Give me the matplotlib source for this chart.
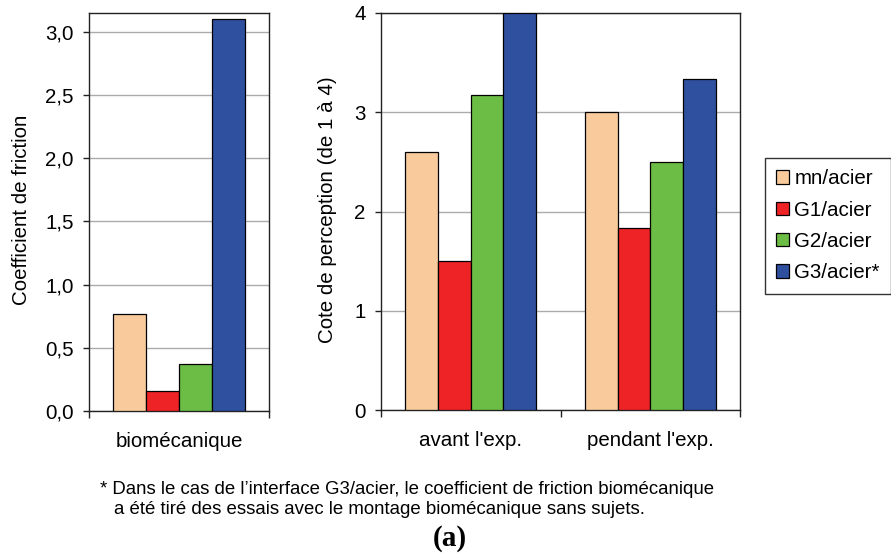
import numpy as np
import matplotlib.pyplot as plt
from matplotlib.ticker import FixedLocator

plt.rcParams['font.family'] = ['Liberation Sans', 'DejaVu Sans']

# séries (interfaces)
series = ['mn/acier', 'G1/acier', 'G2/acier', 'G3/acier*']
colors = ['#F9CB9C', '#EE2326', '#6CBD45', '#2F4F9F']

# coefficient de friction biomécanique
friction_cat = ['biomécanique']
friction = [0.77, 0.16, 0.37, 3.10]

# cote de perception (de 1 à 4)
percep_cat = ["avant l'exp.", "pendant l'exp."]
percep = [[2.60, 3.00],   # mn/acier
          [1.50, 1.83],   # G1/acier
          [3.17, 2.50],   # G2/acier
          [4.00, 3.33]]   # G3/acier*

W, H = 891, 554
fig = plt.figure(figsize=(W / 100, H / 100), dpi=100)

def px_axes(x0, y0, x1, y1):
    return fig.add_axes([x0 / W, 1 - y1 / H, (x1 - x0) / W, (y1 - y0) / H])

ax1 = px_axes(89, 13, 269, 411)
ax2 = px_axes(381, 13, 740, 410)

bw = 0.182
fs = 14.8

def draw(ax, cats, vals):
    x = np.arange(len(cats))
    for i, v in enumerate(vals):
        ax.bar(x + (i - 1.5) * bw, v, bw, color=colors[i], edgecolor='black',
               linewidth=0.9, label=series[i], zorder=3)
    ax.set_xlim(-0.5, len(cats) - 0.5)
    ax.xaxis.set_major_locator(FixedLocator(np.arange(len(cats) + 1) - 0.5))
    ax.xaxis.set_minor_locator(FixedLocator(x))
    ax.set_xticklabels([], minor=False)
    ax.set_xticklabels(cats, minor=True, fontsize=fs)
    ax.tick_params(axis='x', which='major', length=5, width=1, direction='out', colors='#222222')
    ax.tick_params(axis='x', which='minor', length=0, pad=15)
    ax.tick_params(axis='y', length=4, width=1, direction='out', labelsize=fs, pad=7, colors='#222222')
    ax.tick_params(axis='y', labelcolor='black')
    ax.yaxis.grid(True, color='#ABABAB', linewidth=1.0, zorder=0)
    ax.set_axisbelow(True)
    for s in ax.spines.values():
        s.set_color('#222222')
        s.set_linewidth(1.0)

draw(ax1, friction_cat, [[v] for v in friction])
ax1.set_ylim(0, 3.15)
ax1.set_yticks(np.arange(0, 3.01, 0.5))
ax1.set_yticklabels([f'{t:.1f}'.replace('.', ',') for t in np.arange(0, 3.01, 0.5)])
ax1.set_ylabel('Coefficient de friction', fontsize=fs, va='center')
ax1.yaxis.set_label_coords((22 - 89) / 180, 0.505)

draw(ax2, percep_cat, percep)
ax2.set_ylim(0, 4)
ax2.set_yticks(range(0, 5))
ax2.set_ylabel('Cote de perception (de 1 à 4)', fontsize=fs, va='center')
ax2.yaxis.set_label_coords((327.5 - 381) / 359, 0.504)

handles, labels = ax2.get_legend_handles_labels()
leg = fig.legend(handles, labels, loc='upper left', bbox_to_anchor=(765 / W, 1 - 158 / H),
                 fontsize=fs, frameon=True, fancybox=False, edgecolor='black',
                 handlelength=0.62, handleheight=0.62, handletextpad=0.25,
                 labelspacing=0.6, borderpad=0.55, borderaxespad=0)
leg.get_frame().set_linewidth(1.0)

# note de bas de figure
fig.text(100 / W, 1 - 494 / H,
         '* Dans le cas de l’interface G3/acier, le coefficient de friction biomécanique',
         fontsize=13.45, va='baseline', ha='left')
fig.text(114 / W, 1 - 514 / H,
         'a été tiré des essais avec le montage biomécanique sans sujets.',
         fontsize=13.45, va='baseline', ha='left')
fig.text(450 / W, 1 - 539 / H, '(a)', fontsize=21, fontweight='bold',
         family='Liberation Serif', ha='center', va='center')

fig.savefig('out.png', dpi=100)
